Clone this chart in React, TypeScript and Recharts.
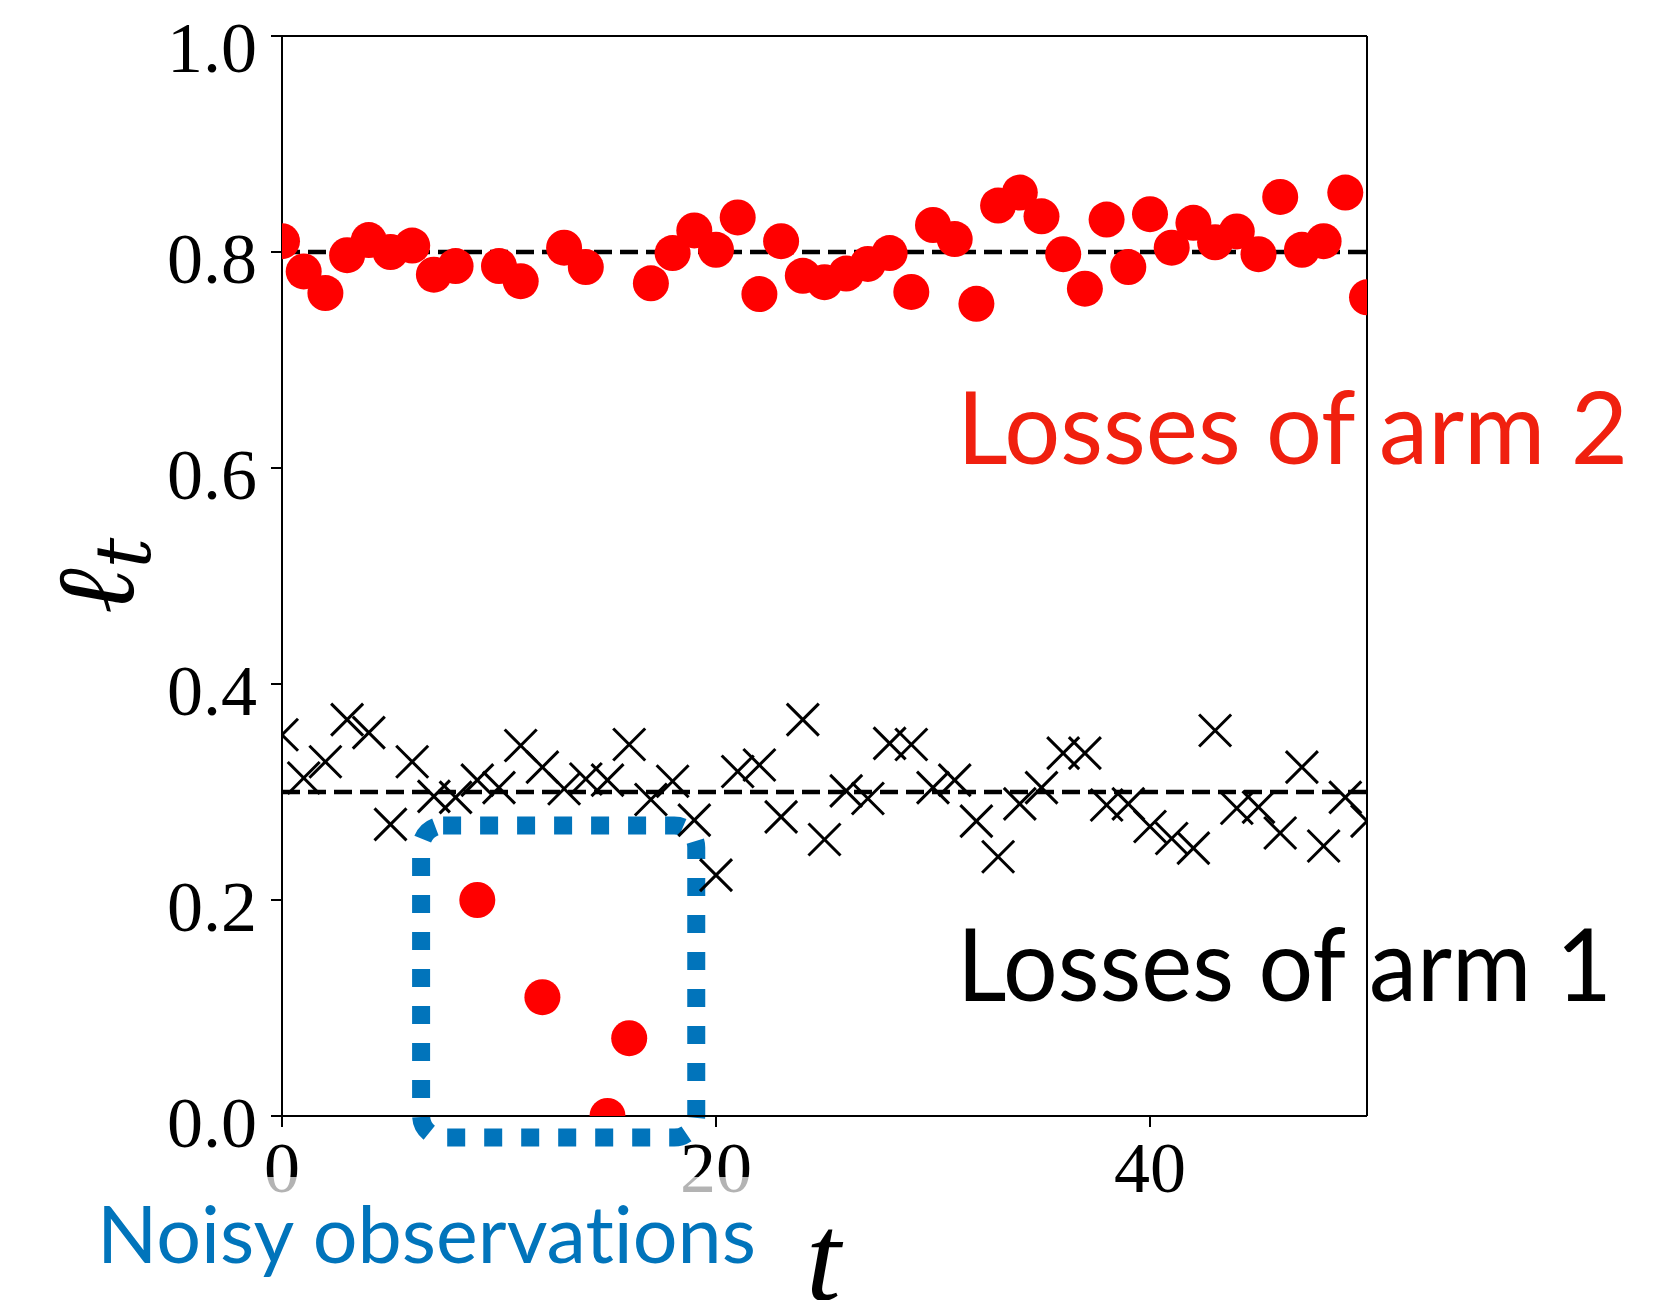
import React from "react";
import { ReferenceArea, ReferenceLine, Scatter, ScatterChart, XAxis, YAxis } from "recharts";

// losses per round t = 0..50
const arm1Losses = [
  0.353, 0.313, 0.328, 0.367, 0.355, 0.27, 0.328, 0.296, 0.295, 0.311,
  0.304, 0.343, 0.323, 0.303, 0.312, 0.311, 0.344, 0.293, 0.31, 0.274,
  0.223, 0.319, 0.325, 0.277, 0.367, 0.256, 0.301, 0.294, 0.345, 0.344,
  0.304, 0.311, 0.273, 0.24, 0.289, 0.304, 0.336, 0.336, 0.288, 0.289,
  0.268, 0.257, 0.248, 0.357, 0.285, 0.286, 0.262, 0.323, 0.25, 0.295,
  0.273,
];

// null where arm 2 was replaced by a noisy observation
const arm2Losses = [
  0.81, 0.782, 0.762, 0.797, 0.811, 0.8, 0.806, 0.779, 0.787, null,
  0.787, 0.773, null, 0.804, 0.786, null, null, 0.771, 0.799, 0.82,
  0.802, 0.832, 0.761, 0.81, 0.778, 0.772, 0.78, 0.789, 0.799, 0.763,
  0.825, 0.812, 0.752, 0.843, 0.855, 0.833, 0.798, 0.766, 0.83, 0.786,
  0.835, 0.804, 0.827, 0.809, 0.819, 0.798, 0.851, 0.802, 0.81, 0.855,
  0.758,
];

const noisyRounds = [9, 12, 15, 16];
const noisyLosses = [0.2, 0.11, 0.0, 0.072];

const meanLosses = [0.3, 0.8];
const xTicks = [0, 20, 40];
const yTicks = [0, 0.2, 0.4, 0.6, 0.8, 1.0];
const xMax = 50;
const yMax = 1;

const arm1Data = arm1Losses.map((loss, t) => ({ t, loss }));
const arm2Data = arm2Losses
  .map((loss, t) => ({ t, loss }))
  .filter((d) => d.loss !== null);
const noisyData = noisyRounds.map((t, i) => ({ t, loss: noisyLosses[i] }));

const RED = "#ff0000";
const BLUE = "#0174bb";
const tickFont = { fontSize: 72, fill: "#000", fontFamily: "Liberation Serif" };
const spine = { stroke: "#000", strokeWidth: 2 };
const noLig = { fontVariantLigatures: "none" as const };

const Dot = (props: any) => <circle cx={props.cx} cy={props.cy} r={18} fill={RED} />;

const Cross = (props: any) => {
  const { cx, cy } = props;
  const h = 16;
  return (
    <g stroke="#000" strokeWidth={3}>
      <line x1={cx - h} y1={cy - h} x2={cx + h} y2={cy + h} />
      <line x1={cx - h} y1={cy + h} x2={cx + h} y2={cy - h} />
    </g>
  );
};

const NoisyBox = (props: any) => (
  <rect
    x={props.x}
    y={props.y}
    width={props.width}
    height={props.height}
    rx={22}
    fill="none"
    stroke={BLUE}
    strokeWidth={18}
    strokeDasharray="18 19"
  />
);

export default function App() {
  return (
    <div style={{ position: "absolute", left: 0, top: 0, width: 1661, height: 1300, background: "#fff" }}>
      <ScatterChart width={1661} height={1300} margin={{ top: 36, right: 294, bottom: 94, left: 0 }}>
        <XAxis
          dataKey="t"
          type="number"
          domain={[0, xMax]}
          ticks={xTicks}
          allowDataOverflow
          height={90}
          tickSize={11}
          tickMargin={14}
          tick={tickFont}
          axisLine={spine}
          tickLine={spine}
        />
        <YAxis
          dataKey="loss"
          type="number"
          domain={[0, yMax]}
          ticks={yTicks}
          allowDataOverflow
          width={282}
          tickSize={11}
          tickMargin={14}
          tick={{ ...tickFont, dy: 5 }}
          tickFormatter={(v: number) => v.toFixed(1)}
          axisLine={spine}
          tickLine={spine}
        />
        <ReferenceArea x1={6.41} x2={19.09} y1={-0.02} y2={0.269} ifOverflow="visible" shape={NoisyBox} />
        <Scatter data={arm1Data} shape={Cross} isAnimationActive={false} />
        <Scatter data={arm2Data} shape={Dot} isAnimationActive={false} />
        <Scatter data={noisyData} shape={Dot} isAnimationActive={false} />
        {meanLosses.map((m) => (
          <ReferenceLine key={m} y={m} stroke="#000" strokeWidth={4.5} strokeDasharray="18 8" />
        ))}
        {/* top and right spines */}
        <ReferenceLine y={yMax} stroke="#000" strokeWidth={2} />
        <ReferenceLine x={xMax} stroke="#000" strokeWidth={2} />
      </ScatterChart>

      <svg width={1661} height={1300} style={{ position: "absolute", left: 0, top: 0, pointerEvents: "none" }}>
        <rect x={60} y={1177} width={710} height={123} fill="#fff" fillOpacity={0.7} />
        <text x={957} y={464} fill="#f0200f" fontFamily="Lato" fontSize={101} textLength={671} lengthAdjust="spacingAndGlyphs" style={noLig}>
          Losses of arm 2
        </text>
        <text x={957} y={1001} fill="#000" fontFamily="Lato" fontSize={101} textLength={655} lengthAdjust="spacingAndGlyphs" style={noLig}>
          Losses of arm 1
        </text>
        <text x={97} y={1263} fill={BLUE} fontFamily="Lato" fontSize={79} textLength={659} lengthAdjust="spacingAndGlyphs" style={noLig}>
          Noisy observations
        </text>
        <text x={806} y={1300} fontFamily="Liberation Serif" fontStyle="italic" fontSize={125} fill="#000">
          t
        </text>
        <text transform="translate(133, 614) rotate(-90)" fontFamily="DejaVu Serif" fontStyle="italic" fontSize={110} fill="#000">
          ℓ<tspan fontSize={76} dy={17}>t</tspan>
        </text>
      </svg>
    </div>
  );
}
